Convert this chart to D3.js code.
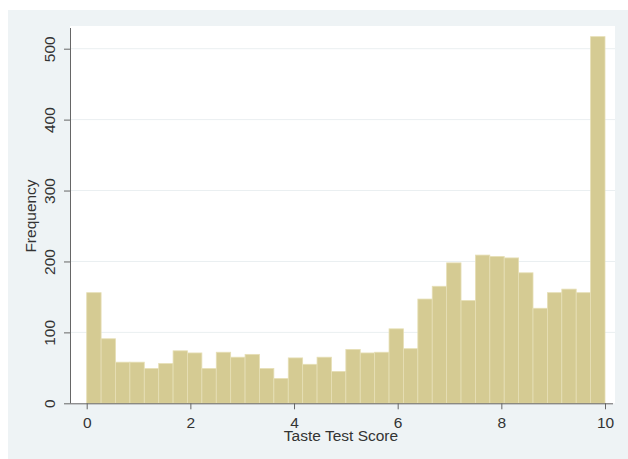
<!DOCTYPE html>
<html>
<head>
<meta charset="utf-8">
<script src="https://cdn.jsdelivr.net/npm/d3@7"></script>
<style>
  html, body { margin: 0; padding: 0; background: #ffffff; }
  svg { display: block; }
  text { font-family: "Liberation Sans", Arial, sans-serif; fill: #333; }
</style>
</head>
<body>
<svg id="chart" width="628" height="459"></svg>
<script>
// Histogram: 36 bins from 0 to 10
const binStart = 0;
const binEnd = 10;
const frequencies = [156, 91, 58, 58, 49, 56, 74, 71, 49, 72, 65, 69,
                     49, 35, 64, 55, 65, 45, 76, 71, 72, 105, 77, 147,
                     165, 198, 145, 209, 207, 205, 184, 134, 156, 161, 156, 517];
const xTicks = [0, 2, 4, 6, 8, 10];
const yTicks = [0, 100, 200, 300, 400, 500];
const xTitle = "Taste Test Score";
const yTitle = "Frequency";

const svg = d3.select("#chart");
const W = 628, H = 459;

// outer graph region
svg.append("rect").attr("x", 8).attr("y", 10).attr("width", W - 8).attr("height", H - 10)
  .attr("fill", "#eef3f5");

const plotL = 70, plotR = 615, plotT = 26, plotB = 403.3;
svg.append("rect").attr("x", plotL).attr("y", plotT).attr("width", plotR - plotL).attr("height", plotB - plotT)
  .attr("fill", "#ffffff");

const x = d3.scaleLinear().domain([binStart, binEnd]).range([86.7, 605]);
const y = d3.scaleLinear().domain([0, 500]).range([plotB, 48.7]);

// gridlines
svg.append("g").selectAll("line").data(yTicks.filter(d => d > 0)).join("line")
  .attr("x1", plotL).attr("x2", plotR)
  .attr("y1", d => y(d)).attr("y2", d => y(d))
  .attr("stroke", "#eaeff1").attr("stroke-width", 1);

// bars
const n = frequencies.length;
const bw = (binEnd - binStart) / n;
const bins = frequencies.map((v, i) => ({ x0: binStart + i * bw, x1: binStart + (i + 1) * bw, v }));
svg.append("g").selectAll("rect").data(bins).join("rect")
  .attr("x", d => x(d.x0))
  .attr("width", d => x(d.x1) - x(d.x0))
  .attr("y", d => y(d.v))
  .attr("height", d => y(0) - y(d.v))
  .attr("fill", "#d5cb93")
  .attr("stroke", "#e6dfb6")
  .attr("stroke-width", 0.8);

// x axis
const xAxis = d3.axisBottom(x).tickValues(xTicks).tickSize(6).tickPadding(8).tickFormat(d3.format("d"));
const gx = svg.append("g").attr("transform", `translate(0,${plotB})`).call(xAxis);
gx.select(".domain").attr("d", `M${plotL},0.5H${plotR - 2}`).attr("stroke", "#666");
gx.selectAll(".tick line").attr("stroke", "#666");
gx.selectAll(".tick text").attr("font-size", "15.5px").attr("fill", "#333")
  .attr("font-family", "Liberation Sans, Arial, sans-serif");

// y axis
const yAxis = d3.axisLeft(y).tickValues(yTicks).tickSize(6).tickPadding(4).tickFormat(d3.format("d"));
const gy = svg.append("g").attr("transform", `translate(${plotL},0)`).call(yAxis);
gy.select(".domain").attr("d", `M0.5,${plotB}V28`).attr("stroke", "#666");
gy.selectAll(".tick line").attr("stroke", "#666");
gy.selectAll(".tick text")
  .attr("font-size", "15.5px").attr("fill", "#333")
  .attr("font-family", "Liberation Sans, Arial, sans-serif")
  .attr("text-anchor", "middle")
  .attr("x", 0).attr("dy", 0)
  .attr("transform", "translate(-15,0) rotate(-90)");

// titles
svg.append("text").attr("x", 341).attr("y", 441).attr("text-anchor", "middle")
  .attr("font-size", "15.5px").text(xTitle);
svg.append("text").attr("transform", "translate(36,216) rotate(-90)").attr("text-anchor", "middle")
  .attr("font-size", "15.5px").text(yTitle);
</script>
</body>
</html>
